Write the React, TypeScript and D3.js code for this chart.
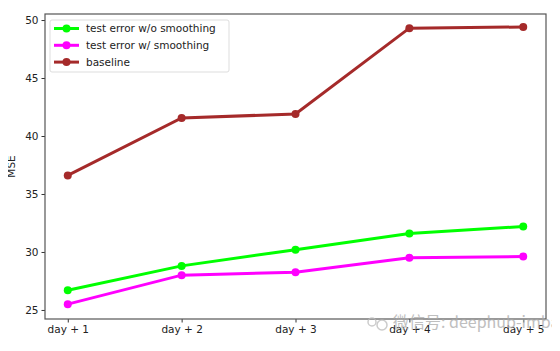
import { useRef, useEffect } from "react";
import * as d3 from "d3";

const days = ["day + 1", "day + 2", "day + 3", "day + 4", "day + 5"];
const noSmoothing = [26.7, 28.8, 30.2, 31.6, 32.2];
const withSmoothing = [25.5, 28.0, 28.25, 29.5, 29.6];
const baseline = [36.6, 41.55, 41.9, 49.3, 49.4];
const yTicks = [25, 30, 35, 40, 45, 50];

const series = [
  { name: "test error w/o smoothing", values: noSmoothing, color: "#00ff00" },
  { name: "test error w/ smoothing", values: withSmoothing, color: "#ff00ff" },
  { name: "baseline", values: baseline, color: "#a52a2a" },
];

const App = () => {
  const svgRef = useRef<SVGSVGElement>(null);

  useEffect(() => {
    const svg = d3.select(svgRef.current);
    svg.selectAll("*").remove();

    const left = 45,
      top = 14,
      right = 546,
      bottom = 319,
      font = "DejaVu Sans, sans-serif";

    const x = d3.scaleLinear().domain([-0.2, days.length - 0.8]).range([left, right]);
    const y = d3.scaleLinear().domain([24.22, 50.52]).range([bottom, top]);

    svg.append("rect").attr("width", 560).attr("height", 351).attr("fill", "#fff");

    // axes
    const xAxis = svg
      .append("g")
      .attr("transform", "translate(0," + bottom + ")")
      .call(
        d3.axisBottom(x)
          .tickValues(days.map((_, i) => i))
          .tickFormat((d) => days[d as number])
          .tickSizeOuter(0)
          .tickSize(3.5)
          .tickPadding(3)
      );
    xAxis.selectAll(".domain").remove();
    xAxis.selectAll("text").attr("font-size", 10.5).attr("font-family", font).attr("fill", "#222");
    xAxis.selectAll("line").attr("stroke", "#333");

    const yAxis = svg
      .append("g")
      .attr("transform", "translate(" + left + ",0)")
      .call(d3.axisLeft(y).tickValues(yTicks).tickSizeOuter(0).tickSize(3.5).tickPadding(3));
    yAxis.selectAll(".domain").remove();
    yAxis.selectAll("text").attr("font-size", 10.5).attr("font-family", font).attr("fill", "#222");
    yAxis.selectAll("line").attr("stroke", "#333");

    svg
      .append("text")
      .attr("transform", "translate(15," + (top + bottom) / 2 + ") rotate(-90)")
      .attr("text-anchor", "middle")
      .attr("font-size", 10.5)
      .attr("font-family", font)
      .attr("fill", "#222")
      .text("MSE");

    // lines
    const line = d3
      .line<number>()
      .x((_, i) => x(i))
      .y((d) => y(d));

    series.forEach((s) => {
      svg
        .append("path")
        .datum(s.values)
        .attr("fill", "none")
        .attr("stroke", s.color)
        .attr("stroke-width", 3)
        .attr("d", line);
      svg
        .selectAll(null)
        .data(s.values)
        .enter()
        .append("circle")
        .attr("cx", (_, i) => x(i))
        .attr("cy", (d) => y(d))
        .attr("r", 4)
        .attr("fill", s.color);
    });

    // frame
    svg
      .append("rect")
      .attr("x", left)
      .attr("y", top)
      .attr("width", right - left)
      .attr("height", bottom - top)
      .attr("fill", "none")
      .attr("stroke", "#555")
      .attr("stroke-width", 1.2);

    // legend
    const legend = svg.append("g").attr("transform", "translate(50,20)");
    legend
      .append("rect")
      .attr("width", 179)
      .attr("height", 52)
      .attr("rx", 2)
      .attr("fill", "#fff")
      .attr("fill-opacity", 0.8)
      .attr("stroke", "#ddd");
    series.forEach((s, i) => {
      const g = legend.append("g").attr("transform", "translate(0," + (8.5 + i * 16.8) + ")");
      g.append("line").attr("x1", 4).attr("x2", 29).attr("stroke", s.color).attr("stroke-width", 3);
      g.append("circle").attr("cx", 16.5).attr("r", 4).attr("fill", s.color);
      g.append("text")
        .attr("x", 36)
        .attr("dy", "0.35em")
        .attr("font-size", 10.5)
        .attr("font-family", font)
        .attr("fill", "#222")
        .text(s.name);
    });

    // watermark
    const wm = svg.append("g").attr("opacity", 0.75);
    wm.append("circle").attr("cx", 372).attr("cy", 322).attr("r", 4).attr("fill", "none").attr("stroke", "#bbb").attr("stroke-width", 1.5);
    wm.append("circle").attr("cx", 382).attr("cy", 325).attr("r", 5).attr("fill", "none").attr("stroke", "#bbb").attr("stroke-width", 1.5);
    wm.append("text")
      .attr("x", 393)
      .attr("y", 328)
      .attr("font-size", 16)
      .attr("font-family", "Noto Sans CJK SC, DejaVu Sans, sans-serif")
      .attr("fill", "#aaa")
      .text("微信号: deephub-imba");
  }, []);

  return <svg ref={svgRef} width={560} height={351} style={{ display: "block", margin: "-8px" }}></svg>;
};

export default App;
